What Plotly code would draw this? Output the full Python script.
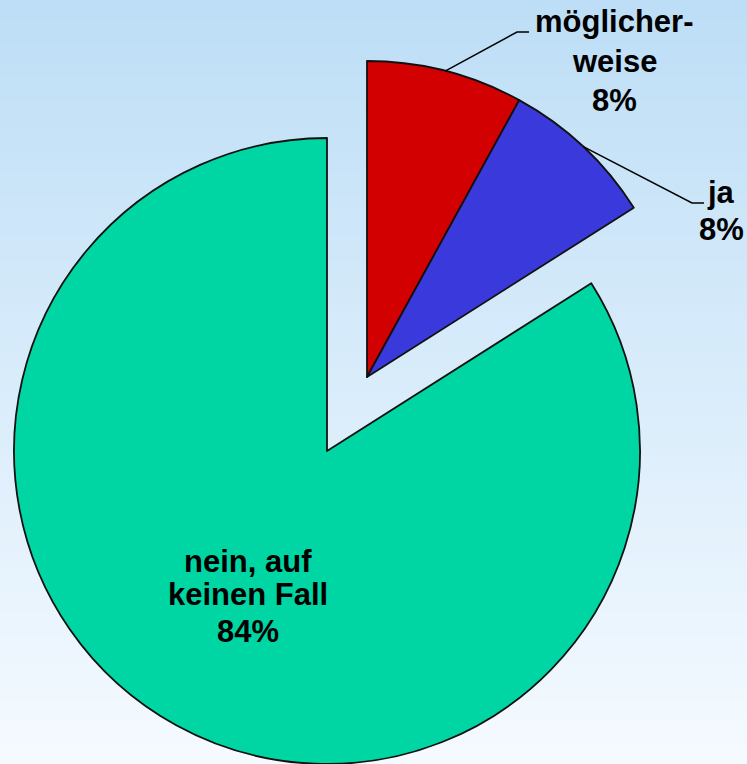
import math
import plotly.graph_objects as go

# ---- data ----
categories = ["möglicher-<br>weise", "ja", "nein, auf<br>keinen Fall"]
values = [8, 8, 84]
slice_colors = ["#d20000", "#3a3adc", "#00d6a4"]

W, H = 747, 764
TRANSPARENT = "rgba(0,0,0,0)"


def px_x(x):
    return x / W


def px_y(y):
    return 1 - y / H


def domain(cx, cy, r):
    return dict(x=[px_x(cx - r), px_x(cx + r)], y=[px_y(cy + r), px_y(cy - r)])


# geometry of the two pie groups (pixel space)
cA, rA = (367, 377), 316   # red + blue group
cB, rB = (327, 451), 313   # pulled teal slice

total = sum(values)
pct = [f"{round(v / total * 100)}%" for v in values]

fig = go.Figure()

common = dict(
    labels=[c.replace("<br>", " ") for c in categories],
    values=values,
    sort=False,
    direction="clockwise",
    rotation=0,
    textinfo="none",
    hoverinfo="label+percent",
    showlegend=False,
)

fig.add_trace(go.Pie(
    **common,
    domain=domain(*cA, rA),
    marker=dict(colors=[slice_colors[0], slice_colors[1], TRANSPARENT],
                line=dict(color="#111111", width=[1.8, 1.8, 0])),
))
fig.add_trace(go.Pie(
    **common,
    domain=domain(*cB, rB),
    marker=dict(colors=[TRANSPARENT, TRANSPARENT, slice_colors[2]],
                line=dict(color="#111111", width=[0, 0, 1.8])),
))

# background gradient
shapes = []
top = (189, 222, 246)
bot = (245, 250, 255)
N = 120
for i in range(N):
    t = i / (N - 1)
    c = tuple(round(top[k] + (bot[k] - top[k]) * t) for k in range(3))
    shapes.append(dict(type="rect", xref="paper", yref="paper",
                       x0=0, x1=1, y0=1 - (i + 1) / N - 0.002, y1=1 - i / N,
                       fillcolor=f"rgb{c}", line=dict(width=0), layer="below"))

# leader lines from slice mid-angles
cum = 0
mids = []
for v in values:
    mids.append((cum + v / 2) / total * 2 * math.pi)
    cum += v


def arc_point(c, r, ang):
    return (c[0] + r * math.sin(ang), c[1] - r * math.cos(ang))


leader_ends = [((517, 32), (529, 32)), ((692, 203), (704, 203))]
for i in range(2):
    sx, sy = arc_point(cA, rA, mids[i])
    (ex, ey), (fx, fy) = leader_ends[i]
    path = f"M {px_x(sx)},{px_y(sy)} L {px_x(ex)},{px_y(ey)} L {px_x(fx)},{px_y(fy)}"
    shapes.append(dict(type="path", xref="paper", yref="paper", path=path,
                       line=dict(color="black", width=1.5)))

FS = 31
font = dict(family="Liberation Sans, Arial, sans-serif", size=FS, color="black")
# label line layout: (center x, list of baselines) in pixels
label_layout = [(614, [32, 72, 111]), (721, [203, 240]), (248, [572, 605, 642])]
annotations = []
for i in range(3):
    lines = categories[i].split("<br>") + [pct[i]]
    cx, baselines = label_layout[i]
    for txt, base in zip(lines, baselines):
        annotations.append(dict(
            x=px_x(cx), y=px_y(base - 0.35 * FS), xref="paper", yref="paper",
            text=f"<b>{txt}</b>",
            showarrow=False, font=font, align="center",
            xanchor="center", yanchor="middle",
        ))

fig.update_layout(
    width=W, height=H,
    margin=dict(l=0, r=0, t=0, b=0),
    paper_bgcolor="#e6f1fb",
    plot_bgcolor="rgba(0,0,0,0)",
    shapes=shapes,
    annotations=annotations,
)

fig.write_html("out.html", config={"displayModeBar": False},
               post_script="document.body.style.margin='0px';document.body.style.overflow='hidden';")
